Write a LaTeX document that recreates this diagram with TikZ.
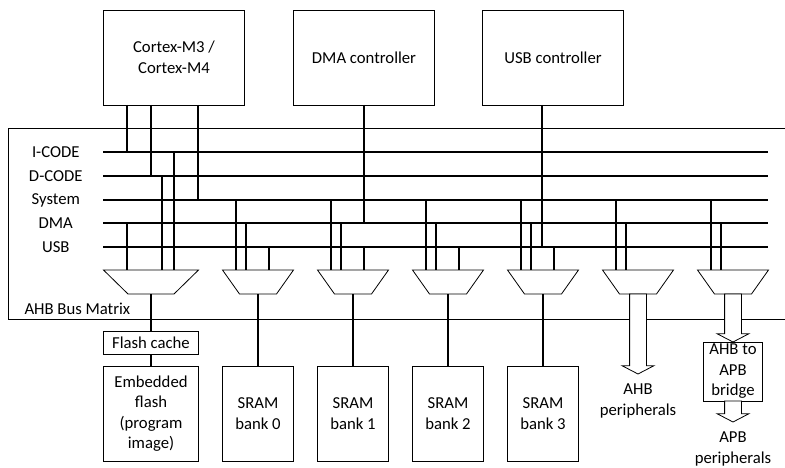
\documentclass[tikz,border=0pt]{standalone}
\usepackage{fontspec}
\setmainfont{Carlito}
\usepackage{tikz}
\usetikzlibrary{arrows.meta, positioning, shapes.arrows}
\tikzset{
  block/.style={rectangle, draw=black, line width=0.8pt, fill=white,
                minimum width=#1, minimum height=95pt,
                inner sep=1pt, outer sep=0pt, align=center},
  block/.default=141pt,
  bus/.style={line width=2pt},
  frameline/.style={line width=0.8pt},
  muxbox/.style={rectangle, minimum width=#1, minimum height=24pt,
                 inner sep=0pt, outer sep=0pt},
  muxline/.style={line width=0.8pt, line join=miter},
  buslabel/.style={text width=80pt, align=center, inner sep=0pt},
  fatarrow/.style={single arrow, draw=black, line width=0.8pt, fill=white,
                   rotate=-90, anchor=tail, minimum height=#1,
                   inner xsep=0pt, inner ysep=8pt, outer sep=0pt,
                   single arrow head extend=7.5pt, single arrow tip angle=125},
  perilabel/.style={align=center, inner sep=1pt},
}

\begin{document}
\begin{tikzpicture}[x=1pt, y=-1pt, font=\fontsize{16.7}{20.5}\selectfont]
  \useasboundingbox (0,0) rectangle (785,468);

  %% AHB BUS MATRIX FRAME
  \coordinate (frtl) at (8,128);
  \coordinate (frbl) at (8,319);
  \coordinate (frtr) at (785,128);
  \coordinate (frbr) at (785,319);
  \draw[frameline] (frtr) -- (frtl) -- (frbl) -- (frbr);
  \node[anchor=base west, xshift=13pt, yshift=5pt] (mtxlbl) at (frbl) {AHB Bus Matrix};

  %% MASTERS
  \node[block] (cpu) at (174,57.5) {Cortex-M3 /\\Cortex-M4};
  \node[block, right=49pt of cpu] (dmac) {DMA controller};
  \node[block, right=48pt of dmac] (usbc) {USB controller};

  %% BUS LINES
  \coordinate (busI)   at (103,152);
  \coordinate (busD)   at (103,176);
  \coordinate (busS)   at (103,200);
  \coordinate (busDMA) at (103,223);
  \coordinate (busUSB) at (103,247);
  \coordinate (busend) at (768,0);
  \foreach \b in {busI,busD,busS,busDMA,busUSB}
    \draw[bus] (\b) -- (\b -| busend);

  \node[buslabel, left=7pt of busI]   {I-CODE};
  \node[buslabel, left=7pt of busD]   {D-CODE};
  \node[buslabel, left=7pt of busS]   {System};
  \node[buslabel, left=7pt of busDMA] {DMA};
  \node[buslabel, left=7pt of busUSB] {USB};

  %% MASTER TAPS
  \foreach \dx/\b [count=\i] in {-47/busI, -23/busD, 24/busS} {
    \coordinate (cpu-\i) at ([xshift=\dx pt]cpu.south);
    \draw[bus] (cpu-\i) -- (cpu-\i |- \b);
  }
  \draw[bus] (dmac.south) -- (dmac.south |- busDMA);
  \coordinate (usbc-t) at ([xshift=-11pt]usbc.south);
  \draw[bus] (usbc-t) -- (usbc-t |- busUSB);

  %% MULTIPLEXERS
  \node[muxbox=95pt] (m1) at (151,282) {};
  \foreach \i [count=\j from 1] in {2,...,7}
    \node[muxbox=71pt, right=24pt of m\j] (m\i) {};

  \foreach \m/\s in {m1/24.5, m2/17, m3/17, m4/17, m5/17, m6/17, m7/17}
    \draw[muxline] (\m.north west) -- (\m.north east)
      -- ([xshift=-\s pt]\m.south east) -- ([xshift=\s pt]\m.south west) -- cycle;

  %% MUX TAPS
  \coordinate (m1-a) at ([xshift=-24pt]m1.north);
  \coordinate (m1-b) at ([xshift=11pt]m1.north);
  \coordinate (m1-c) at ([xshift=23pt]m1.north);
  \draw[bus] (m1-a |- busDMA) -- (m1-a);
  \draw[bus] (m1-b |- busD) -- (m1-b);
  \draw[bus] (m1-c |- busI) -- (m1-c);
  \foreach \i in {2,...,7} {
    \coordinate (m\i-s) at ([xshift=-22pt]m\i.north);
    \coordinate (m\i-d) at ([xshift=-12pt]m\i.north);
    \draw[bus] (m\i-s |- busS) -- (m\i-s);
    \draw[bus] (m\i-d |- busDMA) -- (m\i-d);
  }
  \foreach \i in {2,...,5} {
    \coordinate (m\i-u) at ([xshift=11pt]m\i.north);
    \draw[bus] (m\i-u |- busUSB) -- (m\i-u);
  }

  %% FLASH
  \node[block=95pt, minimum height=23pt, below=37pt of m1] (fcache) {Flash cache};
  \node[block=95pt, below=12pt of fcache] (eflash) {Embedded\\flash\\(program\\image)};
  \draw[bus] (m1.south) -- (fcache.north);
  \draw[bus] (fcache.south) -- (eflash.north);

  %% SRAM BANKS
  \foreach \i [count=\k from 0] in {2,...,5} {
    \node[block=71pt, below=72pt of m\i] (sram\k) {SRAM\\bank \k};
    \draw[bus] (m\i.south) -- (sram\k.north);
  }

  %% PERIPHERALS
  \node[fatarrow=80pt] (ahbarr) at (m6.south) {};
  \node[perilabel, below=9pt of ahbarr.tip] (ahblbl) {AHB\\peripherals};

  \node[block=59pt, minimum height=59pt, below=48pt of m7] (bridge) {AHB to\\APB\\bridge};
  \node[fatarrow=48pt] (brarr) at (m7.south) {};
  \node[fatarrow=21pt] (apbarr) at (bridge.south) {};
  \node[perilabel, below=9pt of apbarr.tip] (apblbl) {APB\\peripherals};

\end{tikzpicture}
\end{document}
